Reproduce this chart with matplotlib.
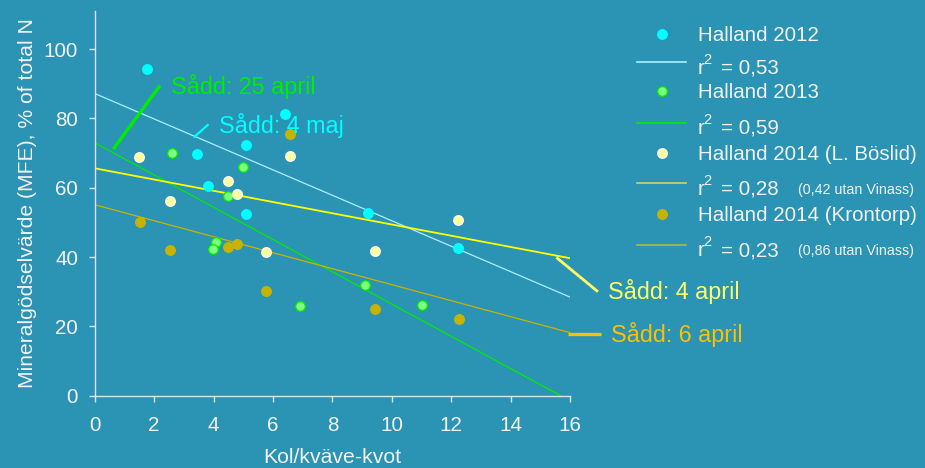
import numpy as np
import matplotlib
matplotlib.use("Agg")
import matplotlib.pyplot as plt

plt.rcParams['font.family'] = ['Liberation Sans', 'DejaVu Sans']

# C/N-kvot och MFE per försöksled
x_2012 = [1.75, 6.39, 5.10, 3.44, 3.81, 5.10, 9.19, 12.22]
y_2012 = [94.2, 81.2, 72.2, 69.6, 60.4, 52.3, 52.6, 42.5]
x_2013 = [2.60, 5.00, 4.49, 4.09, 3.99, 6.90, 9.11, 11.01]
y_2013 = [69.9, 66.1, 57.6, 44.4, 42.3, 25.9, 32.0, 26.1]
x_bos = [1.50, 6.59, 4.50, 4.78, 2.53, 5.75, 9.42, 12.24]
y_bos = [68.8, 69.3, 62.0, 58.2, 56.2, 41.4, 41.7, 50.6]
x_kro = [6.59, 1.51, 2.52, 4.50, 4.80, 5.76, 9.42, 12.25]
y_kro = [75.6, 50.1, 42.1, 42.8, 43.7, 30.3, 25.0, 22.0]

labels = ['Halland 2012', 'Halland 2013', 'Halland 2014 (L. Böslid)',
          'Halland 2014 (Krontorp)']
r2_text = ['0,53', '0,59', '0,28', '0,23']
r2_note = ['', '', '(0,42 utan Vinass)', '(0,86 utan Vinass)']

bg = '#2b93b3'
fg = '#f2f2f2'
axcol = '#d6e6ee'

fig = plt.figure(figsize=(9.25, 4.68), dpi=100, facecolor=bg)
ax = fig.add_axes([0.1024, 0.1545, 0.5138, 0.822])
ax.set_facecolor(bg)

series = [
    (x_2012, y_2012, '#00ffff', '#00ffff', '#a8f0ff', 0.9, '#a8f0ff'),
    (x_2013, y_2013, '#80ff80', '#00ee00', '#00ee00', 0.9, '#00ee00'),
    (x_bos, y_bos, '#ffff99', '#ffffff', '#ffff00', 1.3, '#c8d860'),
    (x_kro, y_kro, '#c8b400', '#c8b400', '#c8b400', 0.9, '#b8b830'),
]

xfit = np.array([0, 16])
for xs, ys, fc, ec, lc, lw, _ in series:
    k, m = np.polyfit(xs, ys, 1)
    ax.plot(xfit, m + k * xfit, color=lc, lw=lw, zorder=2)
for xs, ys, fc, ec, lc, lw, _ in series:
    ax.scatter(xs, ys, s=48, c=fc, edgecolors=ec, linewidths=0.9, zorder=3)

ax.set_xlim(0, 16)
ax.set_ylim(0, 111)
ax.set_xticks(range(0, 17, 2))
ax.set_yticks(range(0, 101, 20))
for s in ['top', 'right']:
    ax.spines[s].set_visible(False)
for s in ['left', 'bottom']:
    ax.spines[s].set_color(axcol)
    ax.spines[s].set_linewidth(1.0)
ax.tick_params(colors=axcol, labelcolor=fg, labelsize=14.9, length=4, width=1,
               direction='out')
ax.tick_params(axis='x', pad=10.5)
ax.tick_params(axis='y', pad=8)
ax.set_xlabel('Kol/kväve-kvot', color=fg, fontsize=15.3, labelpad=9.5)
ax.set_ylabel('Mineralgödselvärde (MFE), % of total N', color=fg,
              fontsize=15.2, labelpad=5)

# såddatum
notes = [
    ('Sådd: 25 april', '#00ee00', (0.62, 2.20), (71.1, 89.5), (2.56, 89.3), 2.4),
    ('Sådd: 4 maj', '#00ffff', (3.33, 3.83), (74.5, 78.3), (4.18, 78.1), 1.6),
    ('Sådd: 4 april', '#ffff66', (15.54, 16.94), (39.9, 30.0), (17.28, 30.0), 2.0),
    ('Sådd: 6 april', '#ffc000', (15.93, 17.03), (17.7, 17.7), (17.39, 17.7), 2.4),
]
for txt, col, lx, ly, tp, lw in notes:
    ax.plot(lx, ly, color=col, lw=lw, clip_on=False, zorder=4,
            solid_capstyle='butt')
    ax.text(tp[0], tp[1], txt, color=col, fontsize=16.8, va='center',
            ha='left', clip_on=False)

# förklaring
lg = fig.add_axes([0, 0, 1, 1])
lg.set_xlim(0, 925)
lg.set_ylim(468, 0)
lg.axis('off')
rows = [34, 91, 153, 214]
lines_y = [62.3, 122.7, 183.3, 245]
for i, (xs, ys, fc, ec, lc, lw, leg_c) in enumerate(series):
    y0 = rows[i]
    lg.scatter([662], [y0], s=48, c=fc, edgecolors=ec, linewidths=0.9)
    lg.text(698, y0 + 6.7, labels[i], color=fg, fontsize=14.8, va='baseline')
    y1 = lines_y[i]
    lg.plot([637, 686], [y1, y1], color=leg_c, lw=1.2)
    base = y1 + 11.3
    lg.text(698, base, 'r', color=fg, fontsize=14.8, va='baseline')
    lg.text(703.5, base - 10, '2', color=fg, fontsize=10.5, va='baseline')
    lg.text(721, base, '= ' + r2_text[i], color=fg, fontsize=14.8,
            va='baseline')
    if r2_note[i]:
        lg.text(798, base - 1, r2_note[i], color=fg, fontsize=10.3,
                va='baseline')

fig.savefig('out.png', dpi=100, facecolor=bg)
